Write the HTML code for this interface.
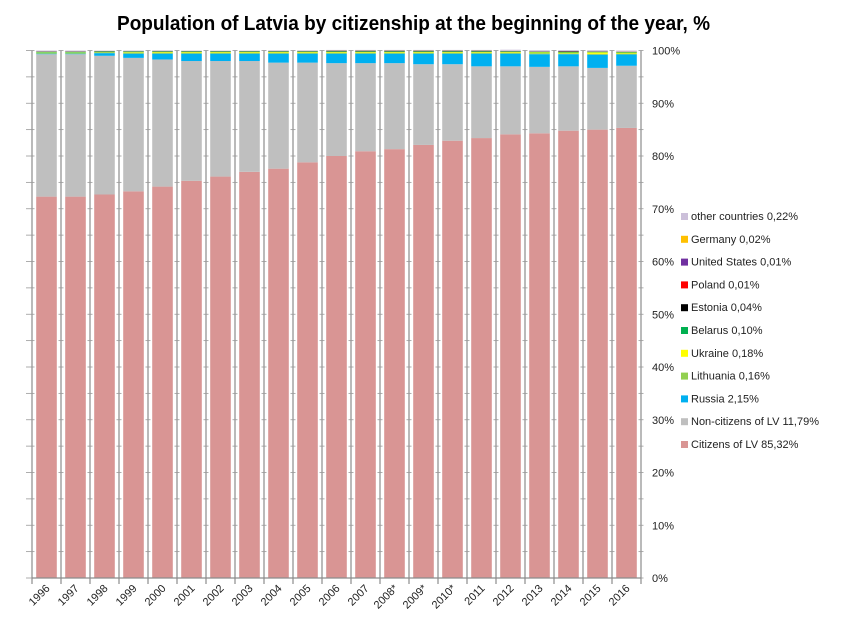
<!DOCTYPE html>
<html><head><meta charset="utf-8"><style>
body{margin:0;background:#fff;font-family:"Liberation Sans",sans-serif}
svg text{font-family:"Liberation Sans",sans-serif}
</style></head><body>
<svg id="c" width="843" height="626">
<text x="117" y="30" textLength="593" lengthAdjust="spacingAndGlyphs" font-size="20" font-weight="bold" fill="#000">Population of Latvia by citizenship at the beginning of the year, %</text>
<g id="plot"></g>
</svg>
<script>
const years=["1996","1997","1998","1999","2000","2001","2002","2003","2004","2005","2006","2007","2008*","2009*","2010*","2011","2012","2013","2014","2015","2016"];
const citizens=[72.3,72.3,72.7,73.3,74.2,75.3,76.1,77.0,77.6,78.8,80.0,80.9,81.3,82.1,82.9,83.4,84.1,84.3,84.8,85.0,85.32];
const noncitizens=[27.0,27.0,26.3,25.3,24.1,22.7,21.9,21.0,20.1,18.9,17.6,16.7,16.3,15.3,14.5,13.6,12.9,12.6,12.2,11.7,11.79];
const russia=[0.1,0.1,0.5,0.8,1.1,1.4,1.4,1.4,1.7,1.7,1.8,1.8,1.8,2.0,2.0,2.4,2.4,2.4,2.3,2.5,2.15];
const lithuania=[0.2,0.2,0.2,0.2,0.2,0.2,0.2,0.2,0.2,0.2,0.2,0.2,0.2,0.2,0.2,0.2,0.2,0.2,0.16,0.16,0.16];
const ukraine=[0.05,0.05,0.05,0.1,0.15,0.15,0.15,0.15,0.15,0.15,0.15,0.15,0.15,0.15,0.15,0.15,0.15,0.15,0.15,0.3,0.18];
const belarus=[0.1,0.1,0.1,0.1,0.1,0.1,0.1,0.1,0.1,0.1,0.1,0.1,0.1,0.1,0.1,0.1,0.1,0.1,0.1,0.1,0.1];
const estonia=[0.04,0.04,0.04,0.04,0.04,0.04,0.04,0.04,0.04,0.04,0.1,0.1,0.1,0.1,0.1,0.1,0.04,0.04,0.1,0.04,0.04];
const poland=[0.01,0.01,0.01,0.01,0.01,0.01,0.01,0.01,0.01,0.01,0.01,0.01,0.01,0.01,0.01,0.01,0.01,0.01,0.01,0.01,0.01];
const usa=[0.01,0.01,0.01,0.01,0.01,0.01,0.01,0.01,0.01,0.01,0.01,0.01,0.01,0.01,0.01,0.01,0.01,0.01,0.01,0.01,0.01];
const germany=[0.02,0.02,0.02,0.02,0.02,0.02,0.02,0.02,0.02,0.02,0.02,0.02,0.02,0.02,0.02,0.02,0.02,0.02,0.02,0.02,0.02];
const other=[0.17,0.17,0.07,0.12,0.12,0.07,0.07,0.07,0.12,0.12,0.12,0.12,0.12,0.12,0.12,0.12,0.22,0.22,0.22,0.22,0.22];
const yTicks=["0%","10%","20%","30%","40%","50%","60%","70%","80%","90%","100%"];
const seriesNames=["Citizens of LV 85,32%","Non-citizens of LV 11,79%","Russia 2,15%","Lithuania 0,16%","Ukraine 0,18%","Belarus 0,10%","Estonia 0,04%","Poland 0,01%","United States 0,01%","Germany 0,02%","other countries 0,22%"];
const series=[citizens,noncitizens,russia,lithuania,ukraine,belarus,estonia,poland,usa,germany,other];
const colors=["#d99594","#bfbfbf","#00b0f0","#92d050","#ffff00","#00b050","#000000","#ff0000","#7030a0","#ffc000","#ccc0da"];
const NS="http://www.w3.org/2000/svg";
const g=document.getElementById("plot");
const X0=32,CW=29,Y0=578,Y1=50.5;
const y=v=>Y0-(Y0-Y1)*v/100;
const xc=i=>X0+CW*i+CW/2;
function mk(t,a){const e=document.createElementNS(NS,t);for(const k in a)e.setAttribute(k,a[k]);g.appendChild(e);return e;}
for(let i=0;i<years.length;i++){let acc=0;
 for(let s=0;s<series.length;s++){const v=series[s][i];
  const r=mk("rect",{x:xc(i)-10.3,y:y(acc+v),width:20.6,height:Math.max(0,y(acc)-y(acc+v)),fill:colors[s]});
  
  
  acc+=v;}}
for(let i=0;i<=years.length;i++){const x=X0+CW*i;
 const l=mk("line",{x1:x,x2:x,y1:Y1,y2:Y0+6,stroke:"#8c8c8c","stroke-width":1.2});
 
 
 for(let k=0;k<=20;k++){const yy=y(k*5);mk("line",{x1:x-(i==0?6:2.5),x2:x+2.5,y1:yy,y2:yy,stroke:"#999","stroke-width":0.8});}}
mk("line",{x1:X0,x2:X0+CW*years.length,y1:Y0,y2:Y0,stroke:"#8c8c8c","stroke-width":1.2});
yTicks.forEach((t,k)=>{const e=mk("text",{x:652,y:y(k*10)+4,"font-size":11,fill:"#222"});e.textContent=t;
 
 });
years.forEach((t,i)=>{const x=xc(i)+4,yy=589;
 const e=mk("text",{x:x,y:yy,"font-size":11,fill:"#222","text-anchor":"end",transform:`rotate(-45 ${x} ${yy})`});e.textContent=t;
 
 });
seriesNames.forEach((n,s)=>{const yy=448-s*22.8;
 const r=mk("rect",{x:681,y:yy-7,width:7,height:7,fill:colors[s]});
 
 
 const e=mk("text",{x:691,y:yy,"font-size":11,fill:"#222"});e.textContent=n;
 
 });
</script>
</body></html>
